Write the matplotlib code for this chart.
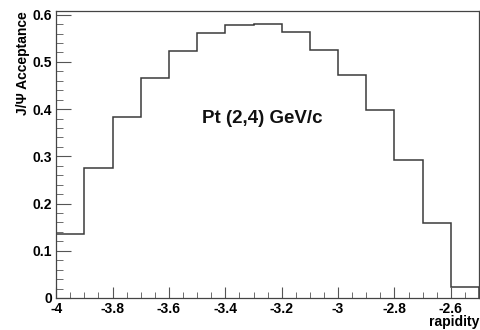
import numpy as np
import matplotlib
matplotlib.use("Agg")
import matplotlib.pyplot as plt
from matplotlib.ticker import MultipleLocator

# bin edges in rapidity and acceptance per bin
edges = [-4.0, -3.9, -3.8, -3.7, -3.6, -3.5, -3.4, -3.3, -3.2,
         -3.1, -3.0, -2.9, -2.8, -2.7, -2.6, -2.5]
acceptance = [0.136, 0.276, 0.384, 0.465, 0.524, 0.562, 0.579, 0.581,
              0.564, 0.526, 0.472, 0.398, 0.292, 0.159, 0.023]
xticks = [-4, -3.8, -3.6, -3.4, -3.2, -3.0, -2.8, -2.6]
xticklabels = ["-4", "-3.8", "-3.6", "-3.4", "-3.2", "-3", "-2.8", "-2.6"]
yticks = [0, 0.1, 0.2, 0.3, 0.4, 0.5, 0.6]
yticklabels = ["0", "0.1", "0.2", "0.3", "0.4", "0.5", "0.6"]

plt.rcParams['font.family'] = ['Liberation Sans', 'DejaVu Sans']

fig = plt.figure(figsize=(4.8, 3.3), dpi=100)
ax = fig.add_axes([0.117, 0.097, 0.881, 0.870])

ax.stairs(acceptance, edges, color='#3a3a3a', linewidth=1.1)

ax.set_xlim(-4.0, -2.5)
ax.set_ylim(0, 0.608)
ax.set_xticks(xticks)
ax.set_xticklabels(xticklabels, fontsize=10, fontweight='bold')
ax.set_yticks(yticks)
ax.set_yticklabels(yticklabels, fontsize=10, fontweight='bold')
ax.xaxis.set_minor_locator(MultipleLocator(0.05))
ax.yaxis.set_minor_locator(MultipleLocator(0.02))
ax.tick_params(axis='both', which='both', direction='in', color='#555555')
ax.tick_params(axis='y', which='major', length=11, pad=3)
ax.tick_params(axis='y', which='minor', length=5)
ax.tick_params(axis='x', which='major', length=8, pad=3)
ax.tick_params(axis='x', which='minor', length=4)
for s in ax.spines.values():
    s.set_color('#444444')
    s.set_linewidth(0.9)

ax.set_xlabel('rapidity', fontsize=10, fontweight='bold', loc='right', labelpad=-1)
ax.set_ylabel('J/\u03a8 Acceptance', fontsize=10, fontweight='bold', loc='top', labelpad=2)

ax.text(-3.482, 0.381, 'Pt (2,4) GeV/c', fontsize=13.5, fontweight='bold',
        ha='left', va='center', color='#111111')

fig.savefig('out.png', dpi=100)
